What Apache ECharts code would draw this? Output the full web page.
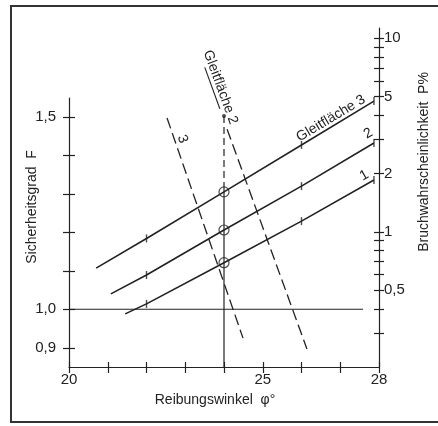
<!DOCTYPE html>
<html><head><meta charset="utf-8">
<script src="https://cdn.jsdelivr.net/npm/echarts@6/dist/echarts.min.js"></script>
<style>html,body{margin:0;padding:0;background:#fff}#c{width:438px;height:426px}</style>
</head><body><div id="c"></div>
<script>
// ---- axis ticks / labels ----
const xTicks = [20, 21, 22, 23, 24, 25, 26, 27, 28];
const xLabels = [20, 25, 28];
const fTicks = [0.9, 1.0, 1.1, 1.2, 1.3, 1.4, 1.5];
const fLabels = [0.9, 1.0, 1.5];
const pTicks = [0.3, 0.4, 0.5, 0.6, 0.7, 0.8, 0.9, 1, 2, 3, 4, 5, 6, 7, 8, 9, 10];
const pLabels = [0.5, 1, 2, 5, 10];
const pMin = 0.2, pMax = 11.3;

// ---- Gleitfläche lines [phi, F] ----
const surface1 = [[21.45, 0.988], [22, 1.014], [24, 1.121], [26, 1.229], [27.87, 1.336]];
const surface2 = [[21.08, 1.040], [22, 1.089], [24, 1.206], [26, 1.320], [27.87, 1.432]];
const surface3 = [[20.70, 1.107], [22, 1.184], [24, 1.305], [26, 1.427], [27.87, 1.541]];
const tickMarks = [[22, 1.014], [26, 1.229], [27.87, 1.336],
                   [22, 1.089], [26, 1.320], [27.87, 1.432],
                   [22, 1.184], [26, 1.427], [27.87, 1.541]];
const circlePoints = [[24, 1.121], [24, 1.206], [24, 1.305]];

// ---- dashed lines ----
const dashed3 = [[22.53, 1.497], [24.49, 0.925]];
const dashed2 = [[24.08, 1.468], [26.14, 0.897]];
const phi24Dashed = [[24, 1.502], [24, 1.318]];
const phi24Solid = [[24, 1.318], [24, 0.85]];
const phi24Dot = [[24, 1.502]];
const fOneLine = [[20, 1.0], [27.59, 1.0]];

// ---- in-plot labels [text, phi, F, angleDeg] ----
const plotLabels = [
  ['Gleitfläche 2', 23.91, 1.577, -70],
  ['3', 22.93, 1.442, -70],
  ['Gleitfläche 3', 26.76, 1.496, 31],
  ['2', 27.72, 1.457, 30],
  ['1', 27.62, 1.348, 30]
];

const INK = '#222';
const FONT = '"Liberation Sans", Arial, sans-serif';
const lg = v => Math.log10(v);

const chart = echarts.init(document.getElementById('c'), null, {renderer: 'canvas'});

function lineSeries(data, type, width) {
  return {
    type: 'line', xAxisIndex: 0, yAxisIndex: 0, data: data, showSymbol: false, symbol: 'none',
    clip: false, silent: true, animation: false,
    lineStyle: {color: INK, width: width, type: type}
  };
}

const option = {
  backgroundColor: '#ffffff',
  animation: false,
  textStyle: {fontFamily: FONT},
  grid: [
    {left: 69, right: 59, top: 98, bottom: 59},
    {left: 69, right: 59, top: 28, bottom: 59}
  ],
  xAxis: [
    {type: 'value', gridIndex: 0, min: 20, max: 28, position: 'bottom',
     axisLine: {show: true, lineStyle: {color: INK, width: 1.2}},
     axisTick: {show: true, inside: false, length: 6, customValues: xTicks, lineStyle: {color: INK, width: 1.2}},
     axisLabel: {show: true, customValues: xLabels, margin: 5, fontSize: 15, color: INK, fontFamily: FONT},
     splitLine: {show: false}},
    {type: 'value', gridIndex: 0, min: 20, max: 28, position: 'bottom',
     axisLine: {show: false},
     axisTick: {show: true, inside: true, length: 5, customValues: xTicks, lineStyle: {color: INK, width: 1.2}},
     axisLabel: {show: false}, splitLine: {show: false}},
    {type: 'value', gridIndex: 1, min: 20, max: 28, show: false}
  ],
  yAxis: [
    {type: 'value', gridIndex: 0, min: 0.85, max: 1.549, position: 'left',
     axisLine: {show: true, lineStyle: {color: INK, width: 1.2}},
     axisTick: {show: true, inside: false, length: 6, customValues: fTicks, lineStyle: {color: INK, width: 1.2}},
     axisLabel: {show: true, customValues: fLabels, margin: 13, fontSize: 15, color: INK, fontFamily: FONT,
                 formatter: v => v.toFixed(1).replace('.', ',')},
     splitLine: {show: false}},
    {type: 'value', gridIndex: 0, min: 0.85, max: 1.549, position: 'left',
     axisLine: {show: false},
     axisTick: {show: true, inside: true, length: 6, customValues: fTicks, lineStyle: {color: INK, width: 1.2}},
     axisLabel: {show: false}, splitLine: {show: false}},
    {type: 'value', gridIndex: 1, min: lg(pMin), max: lg(pMax), position: 'right',
     axisLine: {show: true, lineStyle: {color: INK, width: 1.2}},
     axisTick: {show: true, inside: false, length: 5, customValues: pTicks.map(lg), lineStyle: {color: INK, width: 1.2}},
     axisLabel: {show: true, customValues: pLabels.map(lg), margin: 5, fontSize: 15, color: INK, fontFamily: FONT,
                 formatter: v => String(Math.round(Math.pow(10, v) * 10) / 10).replace('.', ',')},
     splitLine: {show: false}},
    {type: 'value', gridIndex: 1, min: lg(pMin), max: lg(pMax), position: 'right',
     axisLine: {show: false},
     axisTick: {show: true, inside: true, length: 5, customValues: pTicks.map(lg), lineStyle: {color: INK, width: 1.2}},
     axisLabel: {show: false}, splitLine: {show: false}}
  ],
  series: [
    lineSeries(fOneLine, 'solid', 1.2),
    lineSeries(phi24Solid, 'solid', 1.2),
    lineSeries(phi24Dashed, [7, 4], 1.2),
    lineSeries(dashed3, [11, 5], 1.3),
    lineSeries(dashed2, [11, 5], 1.3),
    lineSeries(surface1, 'solid', 1.6),
    lineSeries(surface2, 'solid', 1.6),
    lineSeries(surface3, 'solid', 1.6),
    {type: 'scatter', xAxisIndex: 0, yAxisIndex: 0, data: tickMarks, symbol: 'rect', symbolSize: [1.4, 8],
     itemStyle: {color: INK}, clip: false, silent: true},
    {type: 'scatter', xAxisIndex: 0, yAxisIndex: 0, data: circlePoints, symbol: 'circle', symbolSize: 10,
     itemStyle: {color: 'rgba(0,0,0,0)', borderColor: INK, borderWidth: 1.2}, clip: false, silent: true},
    {type: 'scatter', xAxisIndex: 0, yAxisIndex: 0, data: phi24Dot, symbol: 'circle', symbolSize: 4,
     itemStyle: {color: INK}, clip: false, silent: true}
  ]
};
chart.setOption(option);

const graphics = [
  {type: 'rect', shape: {x: 11, y: 6, width: 440, height: 416}, style: {fill: 'none', stroke: '#333', lineWidth: 2}, silent: true},
  {type: 'text', x: 32, y: 207, rotation: Math.PI / 2,
   style: {text: 'Sicherheitsgrad  F', font: '14px ' + FONT, fill: INK, textAlign: 'center', textVerticalAlign: 'middle'}},
  {type: 'text', x: 424, y: 162, rotation: Math.PI / 2,
   style: {text: 'Bruchwahrscheinlichkeit  P%', font: '14px ' + FONT, fill: INK, textAlign: 'center', textVerticalAlign: 'middle'}},
  {type: 'text', x: 215, y: 400,
   style: {text: 'Reibungswinkel  φ°', font: '14px ' + FONT, fill: INK, textAlign: 'center', textVerticalAlign: 'middle'}}
];
plotLabels.forEach(l => {
  const p = chart.convertToPixel({xAxisIndex: 0, yAxisIndex: 0}, [l[1], l[2]]);
  const a = l[3] * Math.PI / 180;
  graphics.push({type: 'text', x: p[0], y: p[1], rotation: a,
    style: {text: l[0], font: '14px ' + FONT, fill: INK, textAlign: 'center', textVerticalAlign: 'middle'}});
  if (l[0] === 'Gleitfläche 2') {
    const d = [Math.cos(-a), Math.sin(-a)];
    const n = [-d[1], d[0]];
    const off = 8;
    graphics.push({type: 'line', silent: true,
      shape: {x1: p[0] + d[0] * -24 + n[0] * off, y1: p[1] + d[1] * -24 + n[1] * off,
              x2: p[0] + d[0] * 20 + n[0] * off, y2: p[1] + d[1] * 20 + n[1] * off},
      style: {stroke: INK, lineWidth: 1.1}});
  }
});
chart.setOption({graphic: graphics});
</script>
</body></html>
